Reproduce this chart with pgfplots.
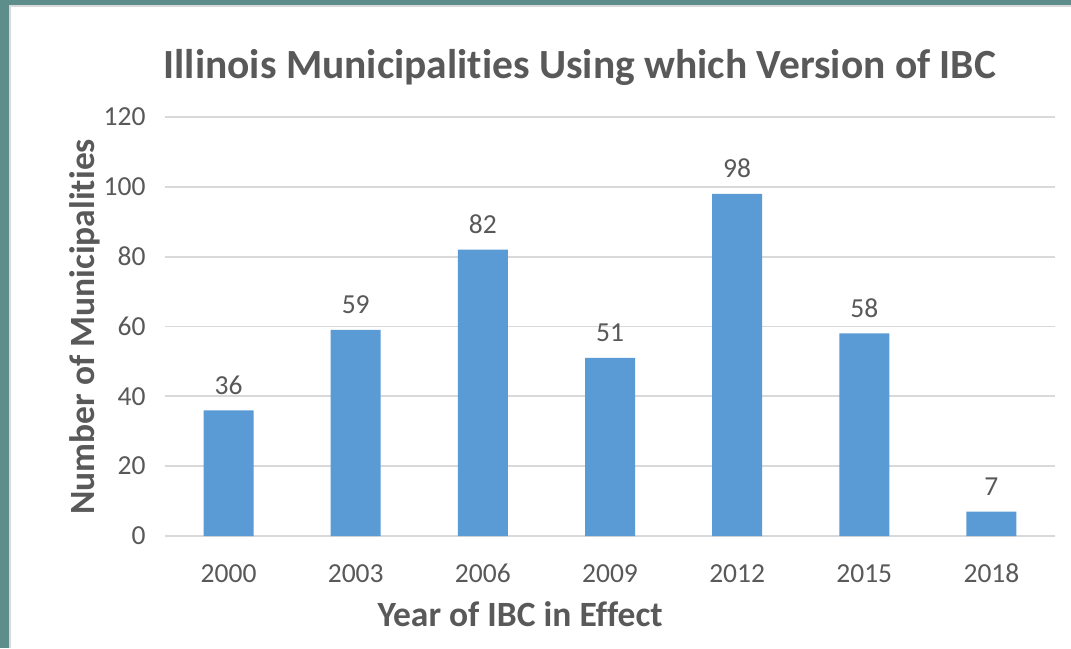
\documentclass[border=0pt]{standalone}
\usepackage{pgfplots}
\pgfplotsset{compat=1.18}
\usepackage{fontspec}
\setmainfont{Carlito}[Ligatures=NoCommon]
\definecolor{barblue}{HTML}{5B9BD5}
\definecolor{gridgrey}{HTML}{D9D9D9}
\definecolor{txt}{HTML}{595959}
\definecolor{teal}{HTML}{5E8E8B}
\begin{document}
\begin{tikzpicture}
\fill[white] (0,0) rectangle (1071pt,648pt);
\fill[teal] (0,0) rectangle (9pt,648pt);
\fill[teal] (0,643pt) rectangle (1071pt,648pt);
\fill[gridgrey] (9pt,0) rectangle (11pt,643pt);
\fill[gridgrey] (9pt,641pt) rectangle (1071pt,643pt);
\begin{axis}[
  at={(165pt,112pt)}, anchor=south west,
  scale only axis, width=890pt, height=419pt,
  xmin=-0.5, xmax=6.5, ymin=0, ymax=120,
  ytick={0,20,...,120},
  xtick={0,...,6},
  xticklabels={2000,2003,2006,2009,2012,2015,2018},
  major tick length=0pt,
  ymajorgrids, grid style={gridgrey, line width=1.8pt},
  axis line style={draw=none},
  axis x line*=bottom,
  x axis line style={draw=gridgrey, line width=1.8pt},
  y axis line style={draw=none},
  /pgf/number format/assume math mode=true,
  tick label style={font=\fontsize{27.5}{32}\selectfont, text=txt},
  yticklabel style={xshift=-16pt},
  xticklabel style={anchor=base, yshift=-46pt},
  title={Illinois Municipalities Using which Version of IBC},
  title style={font=\fontsize{41.5}{48}\selectfont\bfseries, text=txt, at={(0.466,1.105)}, anchor=center},
  xlabel={Year of IBC in Effect},
  xlabel style={font=\fontsize{35.5}{42}\selectfont\bfseries, text=txt, at={(0.399,-0.186)}, anchor=center},
  ylabel={Number of Municipalities},
  ylabel style={font=\fontsize{35.5}{42}\selectfont\bfseries, text=txt, at={(-0.0899,0.499)}, anchor=center, rotate=0},
  nodes near coords,
  nodes near coords style={font=\fontsize{27.5}{32}\selectfont, text=txt, anchor=base, yshift=16pt},
  clip=false,
]
\addplot[ybar, bar width=50pt, fill=barblue, draw=none] coordinates {
(0,36) (1,59) (2,82) (3,51) (4,98) (5,58) (6,7)
};
\end{axis}
\end{tikzpicture}
\end{document}
